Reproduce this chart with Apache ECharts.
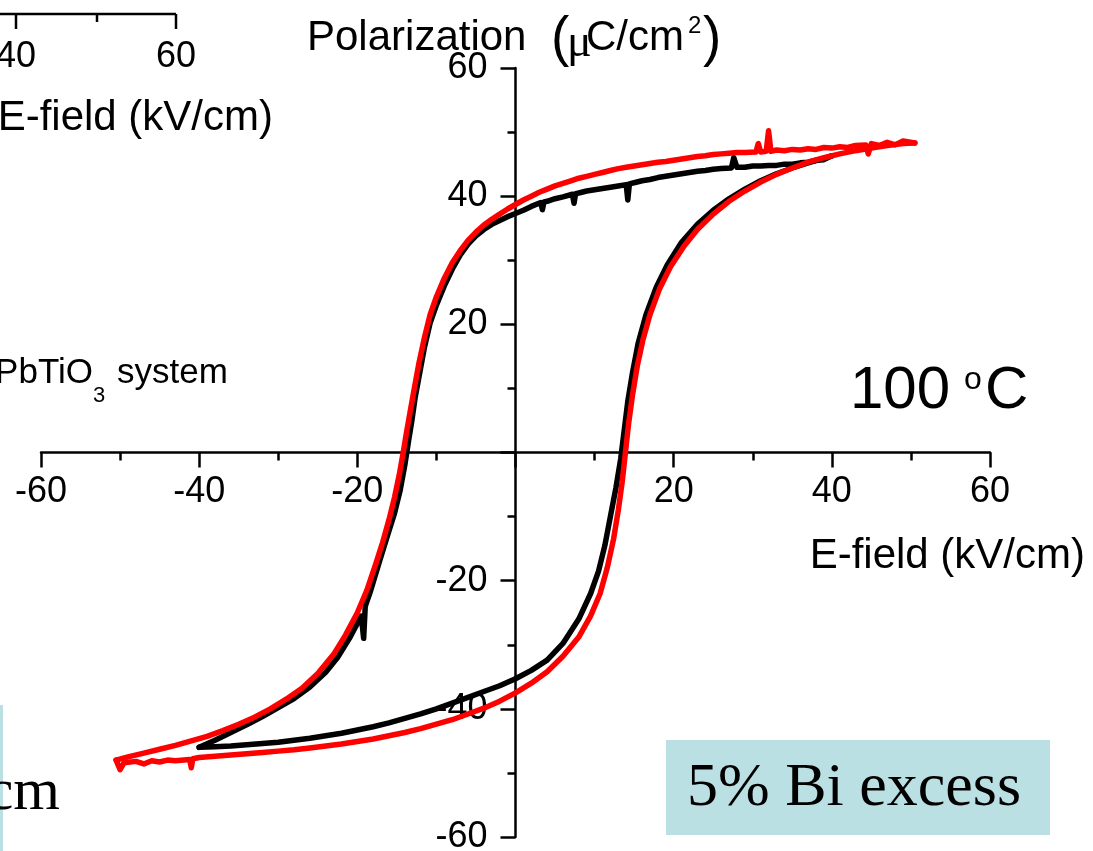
<!DOCTYPE html>
<html>
<head>
<meta charset="utf-8">
<script src="https://cdn.jsdelivr.net/npm/echarts@6/dist/echarts.min.js"></script>
<style>
  html, body { margin: 0; padding: 0; background: #ffffff; }
  #chart { width: 1093px; height: 851px; }
</style>
</head>
<body>
<div id="chart"></div>
<script>
// P-E hysteresis loops, E in kV/cm, P in uC/cm2
// Black loop: +/-40 kV/cm sweep
const blackUpper = [
  [40, 46.3], [39, 45.7], [38, 45.6], [37, 45.3], [36, 45.2], [35, 45.0], [34, 45.0], [33, 44.8],
  [32, 44.8], [31, 44.7], [30, 44.7], [29, 44.5], [28, 44.5], [27.6, 46.0], [27.3, 44.4], [26, 44.3],
  [25, 44.2], [24, 44.0], [23, 43.9], [22, 43.7], [21, 43.5], [20, 43.3], [19, 43.1], [18, 42.9],
  [17, 42.6], [16, 42.4], [15, 42.1], [14.4, 41.9], [14.2, 39.4], [14.0, 41.8], [13, 41.6], [12, 41.4],
  [11, 41.2], [10, 41.0], [9, 40.8], [8, 40.5], [7.6, 40.4], [7.4, 38.9], [7.2, 40.3], [6, 39.9],
  [5, 39.6], [4, 39.2], [3.6, 39.1], [3.4, 37.9], [3.2, 39.0], [2, 38.4], [1, 37.8], [0, 37.3],
  [-1, 36.8], [-2, 36.2], [-3, 35.6], [-4, 34.8], [-5, 33.8], [-6, 32.5], [-7, 30.8], [-8, 28.6],
  [-9, 26.0], [-10, 23.0], [-10.8, 20.2], [-11.5, 16.5], [-12.1, 12.5], [-12.7, 8.5], [-13.1, 5.0],
  [-13.5, 2.0], [-14.0, -2.0], [-14.6, -6.0], [-15.3, -9.5], [-16.2, -13.0], [-17.2, -17.0],
  [-18.3, -21.5], [-19.0, -24.0], [-19.2, -29.0], [-19.5, -25.5], [-21, -29.0], [-22.5, -32.0],
  [-24, -34.3], [-26, -36.6], [-28, -38.4], [-30, -39.8], [-32, -41.2], [-34, -42.5], [-36, -43.7],
  [-38, -44.9], [-40, -46.0]
];
const blackLower = [
  [-40, -46.0], [-38, -45.9], [-36, -45.8], [-34, -45.6], [-32, -45.4], [-30, -45.2], [-28, -44.9],
  [-26, -44.6], [-24, -44.2], [-22, -43.8], [-20, -43.3], [-18, -42.8], [-16, -42.2], [-14, -41.5],
  [-12, -40.8], [-10, -40.0], [-8, -39.1], [-6, -38.2], [-4, -37.3], [-2, -36.4], [0, -35.3],
  [2, -34.0], [4, -32.4], [6, -29.8], [8, -26.0], [9.5, -22.0], [10.5, -18.5], [11.3, -14.5],
  [12.0, -10.0], [12.7, -5.5], [13.3, -1.0], [13.7, 3.0], [14.2, 8.0], [14.8, 12.5], [15.5, 17.0],
  [16.5, 21.5], [17.8, 25.8], [19.2, 29.3], [21, 32.8], [23, 35.6], [25, 37.8], [27, 39.6],
  [29, 41.1], [31, 42.4], [33, 43.5], [35, 44.4], [37, 45.2], [39, 45.9], [40, 46.3]
];
// Red loop: +/-50 kV/cm sweep
const redUpper = [
  [50.5, 48.3], [49, 48.6], [48, 48.0], [47, 48.4], [46, 47.9], [45, 48.2], [44.6, 46.6], [44.3, 48.0],
  [43, 47.9], [42, 47.6], [41, 47.7], [40, 47.5], [39, 47.6], [38, 47.3], [37, 47.4], [36, 47.2],
  [35, 47.3], [34, 47.1], [33, 47.2], [32.3, 47.0], [32.0, 50.2], [31.7, 47.0], [31, 46.9],
  [30.7, 48.2], [30.4, 46.9], [29, 46.8], [28, 46.8], [27, 46.7], [26, 46.6], [25, 46.5], [24, 46.3],
  [23, 46.2], [22, 46.0], [21, 45.8], [20, 45.6], [19, 45.4], [18, 45.3], [17, 45.1], [16, 44.9],
  [15, 44.7], [14, 44.5], [13, 44.3], [12, 44.0], [11, 43.7], [10, 43.4], [9, 43.1], [8, 42.8],
  [7, 42.4], [6, 42.0], [5, 41.6], [4, 41.1], [3, 40.6], [2, 40.0], [1, 39.4], [0, 38.7],
  [-1, 38.0], [-2, 37.2], [-3, 36.4], [-4, 35.5], [-5, 34.4], [-6, 33.1], [-7, 31.5], [-8, 29.6],
  [-9, 27.2], [-10, 24.3], [-10.8, 21.5], [-11.5, 18.0], [-12.2, 14.0], [-12.8, 10.0], [-13.3, 6.5],
  [-13.8, 3.0], [-14.2, 0.0], [-14.7, -3.5], [-15.3, -7.0], [-16.0, -10.5], [-16.8, -14.0],
  [-17.7, -17.5], [-18.8, -21.5], [-20, -25.0], [-21.5, -28.5], [-23, -31.5], [-25, -34.5],
  [-27, -36.8], [-29, -38.5], [-31, -40.0], [-33, -41.3], [-35, -42.4], [-37, -43.4], [-39, -44.3],
  [-41, -45.0], [-43, -45.7], [-45, -46.3], [-47, -46.9], [-49, -47.5], [-50.5, -48.0]
];
const redLower = [
  [-50.5, -48.0], [-50, -49.5], [-49.5, -48.4], [-48, -48.2], [-47, -48.6], [-46, -48.1],
  [-45, -48.3], [-44, -48.0], [-43, -48.1], [-41.2, -47.9], [-41.0, -49.2], [-40.8, -47.8],
  [-40, -47.6], [-38, -47.4], [-36, -47.2], [-34, -47.0], [-32, -46.8], [-30, -46.6], [-28, -46.4],
  [-26, -46.1], [-24, -45.8], [-22, -45.5], [-20, -45.1], [-18, -44.7], [-16, -44.2], [-14, -43.7],
  [-12, -43.1], [-10, -42.4], [-8, -41.7], [-6, -40.8], [-4, -39.9], [-2, -38.8], [0, -37.5],
  [2, -36.0], [4, -34.2], [6, -31.8], [8, -28.8], [9.5, -25.5], [10.7, -22.0], [11.6, -18.0],
  [12.4, -13.5], [13.0, -9.0], [13.5, -4.5], [13.9, 0.0], [14.3, 4.5], [14.8, 9.0], [15.4, 13.5],
  [16.1, 17.5], [17.0, 21.5], [18.2, 25.5], [19.6, 29.0], [21.3, 32.2], [23, 34.8], [25, 37.2],
  [27, 39.2], [29, 40.8], [31, 42.2], [33, 43.4], [35, 44.4], [37, 45.3], [39, 46.0], [41, 46.6],
  [43, 47.1], [45, 47.5], [47, 47.9], [49, 48.2], [50.5, 48.3]
];

const axisTicks = { min: -60, max: 60, interval: 20 };

const sans = 'Arial, "Liberation Sans", sans-serif';
const serif = '"Times New Roman", "Liberation Serif", serif';

// plot frame in pixels; both axes are shifted so they cross at the origin
const frame = { left: 41, right: 103, top: 68, bottom: 14, width: 1093, height: 851 };
const plotW = frame.width - frame.left - frame.right;
const plotH = frame.height - frame.top - frame.bottom;
const zeroFracX = (0 - axisTicks.min) / (axisTicks.max - axisTicks.min);
const zeroFracY = (0 - axisTicks.min) / (axisTicks.max - axisTicks.min);

const chart = echarts.init(document.getElementById('chart'), null, { renderer: 'canvas' });

function axisCommon() {
  return {
    type: 'value',
    min: axisTicks.min,
    max: axisTicks.max,
    interval: axisTicks.interval,
    splitLine: { show: false },
    axisLine: { show: true, onZero: false, lineStyle: { color: '#000', width: 2.5 } },
    axisTick: { show: true, length: 15, lineStyle: { color: '#000', width: 2.5 } },
    minorTick: { show: true, splitNumber: 2, length: 8, lineStyle: { color: '#000', width: 2.5 } },
    axisLabel: {
      color: '#000', fontSize: 36, fontFamily: sans,
      formatter: v => (v === 0 ? '' : String(v))
    }
  };
}

const xAxis = axisCommon();
xAxis.position = 'bottom';
xAxis.offset = -plotH * zeroFracY;
xAxis.axisLabel.margin = 22;
const yAxis = axisCommon();
yAxis.position = 'left';
yAxis.offset = -plotW * zeroFracX;
yAxis.axisLabel.margin = 28;

function lineSeries(name, data, color) {
  return {
    name, type: 'line', data,
    showSymbol: false, symbol: 'none',
    lineStyle: { color, width: 5.5, join: 'round', cap: 'round' },
    z: 3
  };
}

function txt(text, x, y, font, opts) {
  return {
    type: 'text', x, y, silent: true, z: 10,
    style: Object.assign({ text, font, fill: '#000', textAlign: 'left', textVerticalAlign: 'middle' }, opts || {})
  };
}

chart.setOption({
  animation: false,
  backgroundColor: '#ffffff',
  grid: {
    left: frame.left, right: frame.right, top: frame.top, bottom: frame.bottom,
    containLabel: false, outerBoundsMode: 'none'
  },
  xAxis,
  yAxis,
  series: [
    lineSeries('black-up', blackUpper, '#000000'),
    lineSeries('black-low', blackLower, '#000000'),
    lineSeries('red-up', redUpper, '#ff0000'),
    lineSeries('red-low', redLower, '#ff0000')
  ],
  graphic: [
    // neighbouring panel on the left (cut off by the frame)
    { type: 'line', silent: true, shape: { x1: 0, y1: 14, x2: 176, y2: 14 }, style: { stroke: '#000', lineWidth: 2.5 } },
    { type: 'line', silent: true, shape: { x1: 16, y1: 14, x2: 16, y2: 29 }, style: { stroke: '#000', lineWidth: 2.5 } },
    { type: 'line', silent: true, shape: { x1: 97, y1: 14, x2: 97, y2: 22 }, style: { stroke: '#000', lineWidth: 2.5 } },
    { type: 'line', silent: true, shape: { x1: 176, y1: 14, x2: 176, y2: 29 }, style: { stroke: '#000', lineWidth: 2.5 } },
    txt('40', 16, 57, '36px ' + sans, { textAlign: 'center' }),
    txt('60', 176, 57, '36px ' + sans, { textAlign: 'center' }),
    txt('E-field (kV/cm)', 273, 118, '42px ' + sans, { textAlign: 'right' }),
    txt('PbTiO', 93, 373, '35px ' + sans, { textAlign: 'right' }),
    txt('3', 93, 396, '22px ' + sans),
    txt('system', 117, 373, '35px ' + sans),
    txt('cm', 60, 793, '60px ' + serif, { textAlign: 'right' }),
    { type: 'rect', silent: true, shape: { x: 0, y: 705, width: 3, height: 146 }, style: { fill: '#bbe0e3' } },

    // axis titles
    txt('Polarization', 307, 38, '42px ' + sans),
    txt('(', 551, 40, '55px ' + sans),
    txt('\u03bc', 567, 44, '46px ' + serif),
    txt('C/cm', 586, 38, '42px ' + sans),
    txt('2', 688, 26, '24px ' + sans),
    txt(')', 703, 40, '55px ' + sans),
    txt('E-field (kV/cm)', 1085, 556, '42px ' + sans, { textAlign: 'right' }),

    // temperature
    txt('100', 850, 391, '60px ' + sans),
    txt('o', 964, 380, '32px ' + sans),
    txt('C', 985, 391, '60px ' + sans),

    // composition box
    { type: 'rect', silent: true, shape: { x: 666, y: 740, width: 384, height: 95 }, style: { fill: '#bbe0e3' } },
    txt('5% Bi excess', 687, 789, '62px ' + serif)
  ]
});
</script>
</body>
</html>
